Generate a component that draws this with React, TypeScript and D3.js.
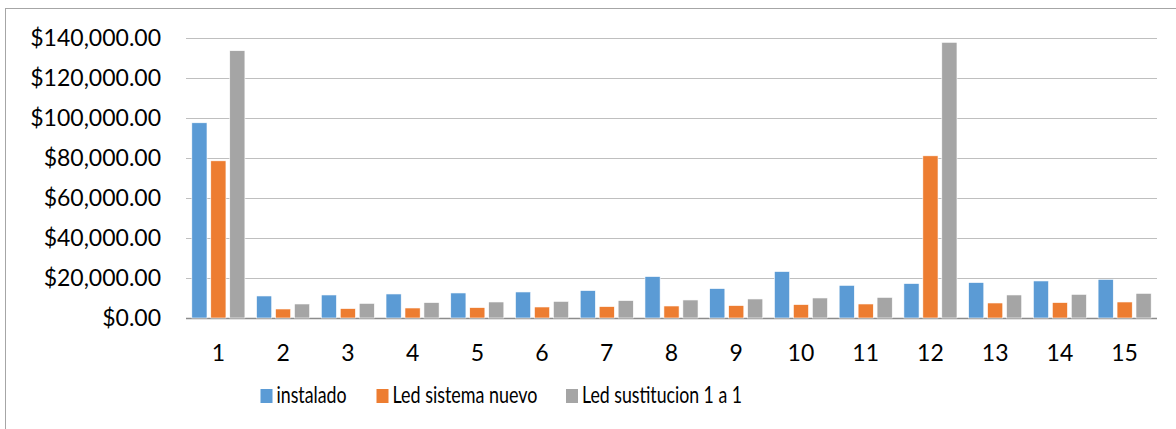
import * as d3 from "d3";

const WIDTH = 1176;
const HEIGHT = 429;

const categories = ["1", "2", "3", "4", "5", "6", "7", "8", "9", "10", "11", "12", "13", "14", "15"];
const seriesNames = ["instalado", "Led sistema nuevo", "Led sustitucion 1 a 1"];
const instalado = [97500, 11000, 11500, 12000, 12500, 13000, 13700, 20700, 14700, 23200, 16300, 17200, 17700, 18500, 19300];
const ledNuevo = [78500, 4500, 4700, 5000, 5200, 5500, 5700, 6000, 6200, 6700, 7000, 81000, 7500, 7700, 8000];
const ledSustitucion = [133500, 7000, 7300, 7700, 8000, 8300, 8700, 9000, 9500, 10000, 10300, 137700, 11500, 11800, 12300];
const yTicks = [0, 20000, 40000, 60000, 80000, 100000, 120000, 140000];
const colors = ["#5B9BD5", "#ED7D31", "#A5A5A5"];

const seriesValues = [instalado, ledNuevo, ledSustitucion];
const FONT = "Lato, 'Open Sans', sans-serif";

const legendX = [260.5, 376.5, 566];
const legendWidths = [70, 145, 160];

export default function App() {
  const x0 = d3.scaleBand().domain(categories).range([186, 1157]).paddingInner(0.18).paddingOuter(0.09);
  const x1 = d3.scaleBand().domain(seriesNames).range([0, x0.bandwidth()]).paddingInner(0.2);
  const y = d3.scaleLinear().domain([0, 140000]).range([318, 37.7]);
  const fmt = d3.format("$,.2f");

  return (
    <svg
      width={WIDTH}
      height={HEIGHT}
      style={{ position: "absolute", left: 0, top: 0, background: "#fff" }}
      fontFamily={FONT}
    >
      <rect x={5.5} y={8.5} width={WIDTH} height={HEIGHT} fill="#fff" stroke="#a6a6a6" />
      {/* gridlines */}
      {yTicks.map((t) => (
        <line
          key={t}
          x1={186}
          x2={1157}
          y1={Math.round(y(t)) + 0.5}
          y2={Math.round(y(t)) + 0.5}
          stroke={t === 0 ? "#8c8c8c" : "#bfbfbf"}
          strokeWidth={t === 0 ? 1.5 : 1}
        />
      ))}
      {/* y labels */}
      {yTicks.map((t) => (
        <text
          key={"l" + t}
          x={161}
          y={y(t)}
          dy="0.36em"
          textAnchor="end"
          fontSize={23}
          fill="#000"
        >
          {fmt(t)}
        </text>
      ))}
      {/* bars */}
      {categories.map((c, i) => (
        <g key={c} transform={`translate(${x0(c)},0)`}>
          {seriesNames.map((s, j) => (
            <rect
              key={s}
              x={x1(s)}
              y={y(seriesValues[j][i])}
              width={x1.bandwidth()}
              height={y(0) - y(seriesValues[j][i])}
              fill={colors[j]}
              stroke="#fff"
              strokeWidth={0.6}
            />
          ))}
        </g>
      ))}
      {/* x labels */}
      {categories.map((c) => (
        <text key={"x" + c} x={(x0(c) as number) + x0.bandwidth() / 2} y={361} textAnchor="middle" fontSize={23} fill="#000">
          {c}
        </text>
      ))}
      {/* legend */}
      {seriesNames.map((s, j) => (
        <g key={"lg" + s} transform={`translate(${legendX[j]},0)`}>
          <rect x={0} y={389} width={12} height={14} fill={colors[j]} />
          <text
            x={16}
            y={403}
            fontSize={23}
            fill="#000"
            textLength={legendWidths[j]}
            lengthAdjust="spacingAndGlyphs"
          >
            {s}
          </text>
        </g>
      ))}
    </svg>
  );
}
